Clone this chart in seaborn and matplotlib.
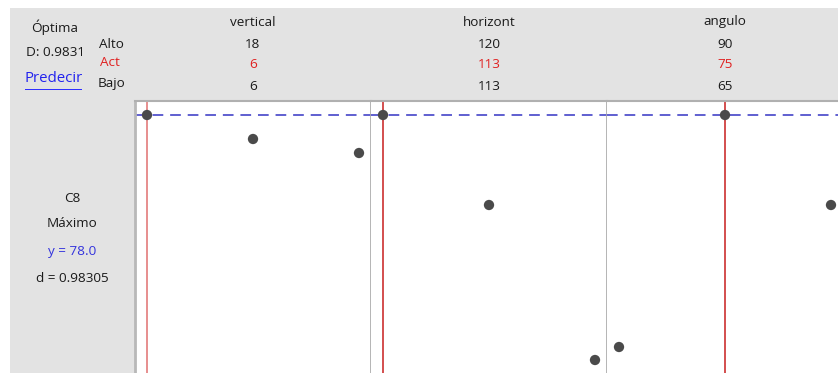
import matplotlib
matplotlib.use("Agg")
import matplotlib.pyplot as plt
import seaborn as sns
import pandas as pd
from matplotlib.patches import Rectangle

# ---- data ----
factors = ["vertical", "horizont", "angulo"]
alto = ["18", "120", "90"]
act = ["6", "113", "75"]
bajo = ["6", "113", "65"]
x_low = [6, 113, 65]
x_high = [18, 120, 90]
x_points = [[6, 12, 18], [113, 116.5, 120], [65, 77.5, 90]]
y_points = [[78.0, 75.6, 74.2], [78.0, 69.0, 53.5], [54.8, 78.0, 69.0]]
x_current = [6, 113, 77.5]
y_target = 78.0
response = "C8"
goal = "Máximo"
y_label = "y = 78.0"
d_label = "d = 0.98305"
D_label = "D: 0.9831"

W, H = 838, 373
sns.set_theme(style="white")
plt.rcParams["font.family"] = ["Open Sans", "DejaVu Sans"]

fig = plt.figure(figsize=(W / 100, H / 100), dpi=100)
fig.patch.set_facecolor("white")

def fx(x):
    return x / W

def fy(y):
    return 1 - y / H

# gray background panel
fig.patches.append(Rectangle((fx(10), 0), 1 - fx(10), fy(8), transform=fig.transFigure,
                             facecolor="#e3e3e3", edgecolor="none", zorder=-10))

fs = 9.7
def txt(x, y, s, color="#1a1a1a", size=fs):
    fig.text(fx(x), fy(y), s, ha="center", va="center", fontsize=size, color=color)

txt(55, 27, "Óptima")
txt(55, 52, D_label)
txt(54, 79, "Predecir", color="#2222ee", size=10.8)
fig.patches.append(Rectangle((fx(25), fy(90)), fx(57), 1.3 / H, transform=fig.transFigure,
                             facecolor="#3030ff", edgecolor="none", zorder=-5))
txt(111, 44, "Alto")
txt(110, 62, "Act", color="#e02020")
txt(111, 84, "Bajo")
txt(72, 198, response)
txt(72, 224, goal)
txt(72, 251, y_label, color="#3333dd")
txt(72, 279, d_label)

panel_left = [135, 371, 607]
pw = 236
top = 101
ymin = 79.4 - 27.2
ymax = 79.4
for i in range(3):
    L = panel_left[i]
    ax = fig.add_axes([fx(L), 0, pw / W, fy(top)])
    ax.set_facecolor("white")
    df = pd.DataFrame({"x": x_points[i], "y": y_points[i]})
    pad = (x_high[i] - x_low[i]) * 12 / 212
    ax.set_xlim(x_low[i] - pad, x_high[i] + pad)
    ax.set_ylim(ymin, ymax)
    ax.axhline(y_target, color="#3434c4", lw=1.1, ls=(0, (7, 4.5)), zorder=1)
    red = "#e07070" if i == 0 else "#c81e1e"
    ax.axvline(x_current[i], color=red, lw=1.1, zorder=2)
    sns.scatterplot(data=df, x="x", y="y", ax=ax, s=55, color="#4a4a4a",
                    edgecolor="none", zorder=3, legend=False)
    ax.set_xticks([])
    ax.set_yticks([])
    ax.set_xlabel("")
    ax.set_ylabel("")
    for s in ax.spines.values():
        s.set_visible(False)
    ax.spines["top"].set_visible(True)
    ax.spines["top"].set_color("#b0b0b0")
    ax.spines["top"].set_linewidth(1.5)
    ax.spines["right"].set_visible(True)
    ax.spines["right"].set_color("#a8a8a8")
    ax.spines["right"].set_linewidth(1.2)
    if i == 0:
        ax.spines["left"].set_visible(True)
        ax.spines["left"].set_color("#b8b8b8")
        ax.spines["left"].set_linewidth(2)
    cx = L + 118
    txt(cx, 22, factors[i])
    txt(cx, 44, alto[i])
    txt(cx, 64, act[i], color="#e02020")
    txt(cx, 86, bajo[i])

fig.savefig("out.png", dpi=100)
